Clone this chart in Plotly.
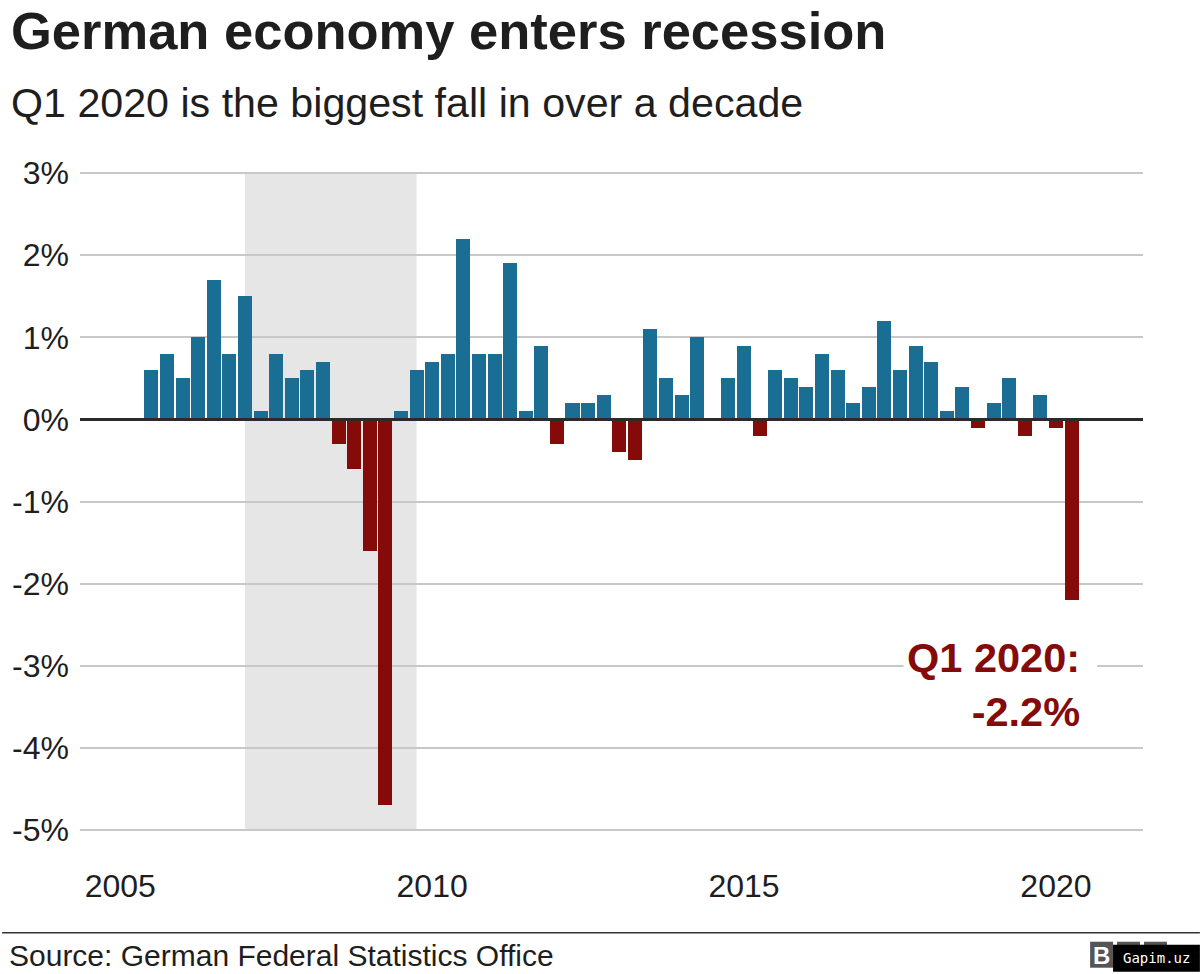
import plotly.graph_objects as go

# ---------------- data ----------------
quarters = [
    "2005 Q2", "2005 Q3", "2005 Q4",
    "2006 Q1", "2006 Q2", "2006 Q3", "2006 Q4",
    "2007 Q1", "2007 Q2", "2007 Q3", "2007 Q4",
    "2008 Q1", "2008 Q2", "2008 Q3", "2008 Q4",
    "2009 Q1", "2009 Q2", "2009 Q3", "2009 Q4",
    "2010 Q1", "2010 Q2", "2010 Q3", "2010 Q4",
    "2011 Q1", "2011 Q2", "2011 Q3", "2011 Q4",
    "2012 Q1", "2012 Q2", "2012 Q3", "2012 Q4",
    "2013 Q1", "2013 Q2", "2013 Q3", "2013 Q4",
    "2014 Q1", "2014 Q2", "2014 Q3", "2014 Q4",
    "2015 Q1", "2015 Q2", "2015 Q3", "2015 Q4",
    "2016 Q1", "2016 Q2", "2016 Q3", "2016 Q4",
    "2017 Q1", "2017 Q2", "2017 Q3", "2017 Q4",
    "2018 Q1", "2018 Q2", "2018 Q3", "2018 Q4",
    "2019 Q1", "2019 Q2", "2019 Q3", "2019 Q4",
    "2020 Q1",
]
growth = [
    0.6, 0.8, 0.5,
    1.0, 1.7, 0.8, 1.5,
    0.1, 0.8, 0.5, 0.6,
    0.7, -0.3, -0.6, -1.6,
    -4.7, 0.1, 0.6, 0.7,
    0.8, 2.2, 0.8, 0.8,
    1.9, 0.1, 0.9, -0.3,
    0.2, 0.2, 0.3, -0.4,
    -0.5, 1.1, 0.5, 0.3,
    1.0, 0.0, 0.5, 0.9,
    -0.2, 0.6, 0.5, 0.4,
    0.8, 0.6, 0.2, 0.4,
    1.2, 0.6, 0.9, 0.7,
    0.1, 0.4, -0.1, 0.2,
    0.5, -0.2, 0.3, -0.1,
    -2.2,
]
year_ticks = [2005, 2010, 2015, 2020]
y_ticks = [3, 2, 1, 0, -1, -2, -3, -4, -5]
y_tick_labels = ["3%", "2%", "1%", "0%", "-1%", "-2%", "-3%", "-4%", "-5%"]
recession = [2007.0, 2009.75]

title = "German economy enters recession"
subtitle = "Q1 2020 is the biggest fall in over a decade"
source = "Source: German Federal Statistics Office"
callout = "Q1 2020:<br>-2.2%"

BLUE = "#1a6e93"
RED = "#850a0a"
TEXT = "#1e1e1e"
FONT = "Liberation Sans, Arial, Helvetica, sans-serif"

# quarter-end position on a numeric year axis
x_vals = [int(q.split()[0]) + int(q.split()[1][1]) / 4 for q in quarters]
colors = [BLUE if v >= 0 else RED for v in growth]

# ---------------- geometry ----------------
W, H = 1200, 974
PX_PER_PCT = 82.125
PAD = 0.1  # extra y-range so edge gridlines are drawn
L, R = 78, 1143
T = 173 - PAD * PX_PER_PCT
B = 830 + PAD * PX_PER_PCT
pw, ph = R - L, B - T


def xp(px):
    return (px - L) / pw


def yp(py):
    return (B - py) / ph


fig = go.Figure()
fig.add_trace(go.Bar(
    x=x_vals, y=growth, marker=dict(color=colors, line=dict(width=0)),
    width=0.225, hoverinfo="x+y",
))

shapes = [
    # recession shading (below gridlines)
    dict(type="rect", xref="x", yref="y", x0=recession[0], x1=recession[1],
         y0=min(y_ticks), y1=max(y_ticks), fillcolor="#e6e6e6", line=dict(width=0),
         layer="below"),
    # zero line on top of bars
    dict(type="line", xref="paper", yref="y", x0=0, x1=1, y0=0, y1=0,
         line=dict(color="#2b2b2b", width=3), layer="above"),
    # white backing for callout
    dict(type="rect", xref="paper", yref="paper", x0=xp(903), x1=xp(1097),
         y0=yp(690), y1=yp(640), fillcolor="white", line=dict(width=0), layer="above"),
    # footer rule
    dict(type="line", xref="paper", yref="paper", x0=xp(0), x1=xp(1200),
         y0=yp(933), y1=yp(933), line=dict(color="#333333", width=1.5)),
    # logo blocks
    dict(type="rect", xref="paper", yref="paper", x0=xp(1090), x1=xp(1113),
         y0=yp(968), y1=yp(942), fillcolor="#555555", line=dict(width=0)),
    dict(type="rect", xref="paper", yref="paper", x0=xp(1117), x1=xp(1140),
         y0=yp(968), y1=yp(942), fillcolor="#555555", line=dict(width=0)),
    dict(type="rect", xref="paper", yref="paper", x0=xp(1144), x1=xp(1167),
         y0=yp(968), y1=yp(942), fillcolor="#555555", line=dict(width=0)),
    dict(type="rect", xref="paper", yref="paper", x0=xp(1113), x1=xp(1200),
         y0=yp(972), y1=yp(945), fillcolor="#000000", line=dict(width=0)),
]

annotations = [
    dict(text="<b>" + title + "</b>", xref="paper", yref="paper", x=xp(7), y=yp(30),
         xanchor="left", yanchor="middle", showarrow=False,
         font=dict(family=FONT, size=52.5, color=TEXT)),
    dict(text=subtitle, xref="paper", yref="paper", x=xp(7), y=yp(103),
         xanchor="left", yanchor="middle", showarrow=False,
         font=dict(family=FONT, size=41.2, color=TEXT)),
    dict(text="<b>" + callout + "</b>", xref="x", yref="paper",
         x=2020.42, y=yp(685), xanchor="right", yanchor="middle", align="right",
         showarrow=False, font=dict(family=FONT, size=41.5, color=RED)),
    dict(text=source, xref="paper", yref="paper", x=xp(5), y=yp(956),
         xanchor="left", yanchor="middle", showarrow=False,
         font=dict(family=FONT, size=30, color=TEXT)),
    dict(text="<b>B</b>", xref="paper", yref="paper", x=xp(1101), y=yp(956),
         xanchor="center", yanchor="middle", showarrow=False,
         font=dict(family=FONT, size=24, color="white")),
    dict(text="Gapim.uz", xref="paper", yref="paper", x=xp(1157), y=yp(958),
         xanchor="center", yanchor="middle", showarrow=False,
         font=dict(family="DejaVu Sans Mono", size=14, color="white")),
]

x0_data = 2005 + (L - 118.3) / 62.5
x1_data = 2005 + (R - 118.3) / 62.5

fig.update_layout(
    width=W, height=H,
    margin=dict(l=L, r=W - R, t=T, b=H - B, pad=0),
    paper_bgcolor="white", plot_bgcolor="white",
    showlegend=False, bargap=0,
    shapes=shapes, annotations=annotations,
    font=dict(family=FONT, color=TEXT),
    xaxis=dict(range=[x0_data, x1_data], tickmode="array", tickvals=year_ticks,
               ticktext=[str(y) for y in year_ticks], showgrid=False, zeroline=False,
               showline=False, ticks="", ticklabelstandoff=26,
               tickfont=dict(family=FONT, size=32, color=TEXT), fixedrange=True),
    yaxis=dict(range=[min(y_ticks) - PAD, max(y_ticks) + PAD], tickmode="array",
               tickvals=y_ticks, ticktext=y_tick_labels, showgrid=True,
               gridcolor="#c8c8c8", gridwidth=1.5,
               zeroline=False, showline=False, ticks="", ticklabelstandoff=10,
               tickfont=dict(family=FONT, size=32, color=TEXT), fixedrange=True),
)

fig.write_html("out.html", config={"displayModeBar": False})
